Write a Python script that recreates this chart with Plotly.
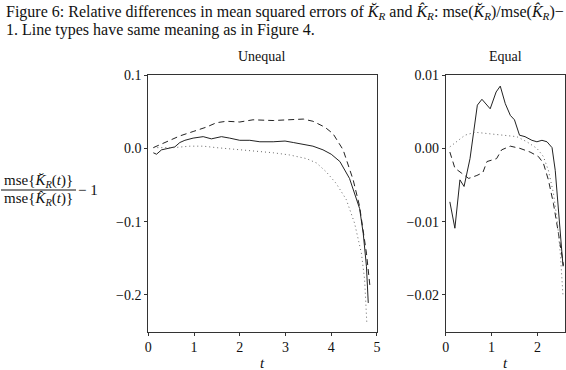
import plotly.graph_objects as go

# Unequal panel (left)
t_uneq_solid = [0.11, 0.18, 0.29, 0.44, 0.58, 0.69, 0.80, 0.98, 1.20, 1.38, 1.60, 1.78, 2.00, 2.22, 2.44,
                2.73, 2.99, 3.17, 3.39, 3.60, 3.82, 4.00, 4.19, 4.40, 4.62, 4.70, 4.77, 4.81]
v_uneq_solid = [-0.006, -0.008, -0.002, 0.000, 0.002, 0.008, 0.011, 0.014, 0.016, 0.013, 0.016, 0.014, 0.011,
                0.011, 0.009, 0.009, 0.010, 0.008, 0.005, 0.003, -0.002, -0.008, -0.018, -0.041, -0.082,
                -0.116, -0.161, -0.211]
t_uneq_dash = [0.11, 0.40, 0.69, 0.98, 1.27, 1.49, 1.71, 2.00, 2.29, 2.73, 3.09, 3.39, 3.60, 3.86, 4.04,
               4.26, 4.48, 4.62, 4.77, 4.85]
v_uneq_dash = [0.001, 0.009, 0.017, 0.023, 0.029, 0.035, 0.037, 0.036, 0.039, 0.038, 0.039, 0.040, 0.037,
               0.029, 0.020, -0.002, -0.043, -0.079, -0.143, -0.190]
t_uneq_dot = [0.11, 0.55, 0.91, 1.20, 1.49, 1.85, 2.29, 2.73, 3.09, 3.46, 3.68, 3.89, 4.11, 4.33, 4.51,
              4.66, 4.73, 4.78]
v_uneq_dot = [0.001, 0.001, 0.003, 0.003, 0.001, -0.001, -0.003, -0.006, -0.009, -0.014, -0.020, -0.032,
              -0.048, -0.070, -0.102, -0.143, -0.179, -0.240]

# Equal panel (right)
t_eq_solid = [0.09, 0.20, 0.31, 0.40, 0.53, 0.69, 0.79, 0.97, 1.10, 1.19, 1.30, 1.41, 1.50, 1.61, 1.73,
              1.88, 1.99, 2.10, 2.21, 2.32, 2.39, 2.46, 2.53, 2.56]
v_eq_solid = [-0.0073, -0.0109, -0.0043, -0.0052, -0.0014, 0.0059, 0.0067, 0.0054, 0.0077, 0.0085, 0.0061,
              0.0045, 0.0039, 0.0018, 0.0016, 0.0011, 0.0009, 0.0011, 0.0009, 0.0001, -0.0030, -0.0084,
              -0.0134, -0.0161]
t_eq_dash = [0.09, 0.20, 0.35, 0.50, 0.68, 0.81, 0.90, 1.04, 1.11, 1.22, 1.41, 1.62, 1.84, 2.02, 2.13,
             2.24, 2.35, 2.46, 2.53, 2.57]
v_eq_dash = [-0.0005, -0.0027, -0.0034, -0.0041, -0.0037, -0.0033, -0.0018, -0.0016, -0.0014, -0.0002,
             0.0003, 0.0000, -0.0005, -0.0011, -0.0020, -0.0043, -0.0075, -0.0116, -0.0147, -0.0160]
t_eq_dot = [0.09, 0.24, 0.42, 0.64, 0.90, 1.26, 1.55, 1.77, 1.99, 2.13, 2.24, 2.35, 2.43, 2.50, 2.53, 2.56]
v_eq_dot = [0.0002, 0.0009, 0.0018, 0.0022, 0.0020, 0.0018, 0.0016, 0.0009, 0.0000, -0.0011, -0.0030,
            -0.0061, -0.0097, -0.0143, -0.0170, -0.0202]

serif = "Liberation Serif"
fig = go.Figure()

styles = [("solid", "#222222"), ("6px,4px", "#222222"), ("1px,3px", "#666666")]
left = [(t_uneq_solid, v_uneq_solid), (t_uneq_dash, v_uneq_dash), (t_uneq_dot, v_uneq_dot)]
right = [(t_eq_solid, v_eq_solid), (t_eq_dash, v_eq_dash), (t_eq_dot, v_eq_dot)]
for (tx, vy), (dash, col) in zip(left, styles):
    fig.add_trace(go.Scatter(x=tx, y=vy, mode="lines", line=dict(color=col, width=1, dash=dash),
                             xaxis="x", yaxis="y", showlegend=False, hoverinfo="skip"))
for (tx, vy), (dash, col) in zip(right, styles):
    fig.add_trace(go.Scatter(x=tx, y=vy, mode="lines", line=dict(color=col, width=1, dash=dash),
                             xaxis="x2", yaxis="y2", showlegend=False, hoverinfo="skip"))

ax = dict(showgrid=False, zeroline=False, showline=True, mirror=True, linecolor="#333333", linewidth=1,
          ticks="outside", ticklen=3, tickcolor="#333333", automargin=False,
          tickfont=dict(family=serif, size=14, color="#111111"))

fig.update_layout(
    template="none",
    width=566, height=370, margin=dict(l=0, r=0, t=0, b=0, pad=0),
    paper_bgcolor="white", plot_bgcolor="white",
    xaxis=dict(ax, domain=[0.262, 0.666], range=[0, 5], tickvals=[0, 1, 2, 3, 4, 5], anchor="y"),
    yaxis=dict(ax, domain=[0.104, 0.797], range=[-0.25, 0.1], tickvals=[0.1, 0.0, -0.1, -0.2],
               ticktext=["0.1", "0.0", "−0.1", "−0.2"], anchor="x"),
    xaxis2=dict(ax, domain=[0.7875, 0.998], range=[0, 2.6], tickvals=[0, 1, 2], anchor="y2"),
    yaxis2=dict(ax, domain=[0.104, 0.797], range=[-0.025, 0.01], tickvals=[0.01, 0.0, -0.01, -0.02],
                ticktext=["0.01", "0.00", "−0.01", "−0.02"], anchor="x2"),
)

txt = dict(family=serif, size=15, color="#111111")
notes = [
    (4, 12, "Figure 6: Relative differences in mean squared errors of <i>K̆</i><sub><i>R</i></sub> and "
            "<i>K̂</i><sub><i>R</i></sub>: mse(<i>K̆</i><sub><i>R</i></sub>)/mse(<i>K̂</i><sub><i>R</i></sub>)−",
     "left", 16),
    (4, 30, "1. Line types have same meaning as in Figure 4.", "left", 16),
    (262, 57, "Unequal", "center", 14),
    (505, 57, "Equal", "center", 14),
    (38, 181, "mse{<i>K̆</i><sub><i>R</i></sub>(<i>t</i>)}", "center", 15),
    (38, 199, "mse{<i>K̂</i><sub><i>R</i></sub>(<i>t</i>)}", "center", 15),
    (88, 190, "− 1", "center", 15),
    (262, 363, "<i>t</i>", "center", 15),
    (505, 363, "<i>t</i>", "center", 15),
]
for x, y, s, al, sz in notes:
    fig.add_annotation(x=x / 566, y=1 - y / 370, xref="paper", yref="paper", text=s, showarrow=False,
                       xanchor=al, yanchor="middle", font=dict(txt, size=sz))
fig.add_shape(type="line", xref="paper", yref="paper", x0=1 / 566, x1=76 / 566, y0=1 - 190 / 370,
              y1=1 - 190 / 370, line=dict(color="#111111", width=1))

# page body has a default margin; drop it so the figure sits at the window corner
fig.write_html("out.html", config={"displayModeBar": False},
               post_script="document.body.style.margin='0';")
